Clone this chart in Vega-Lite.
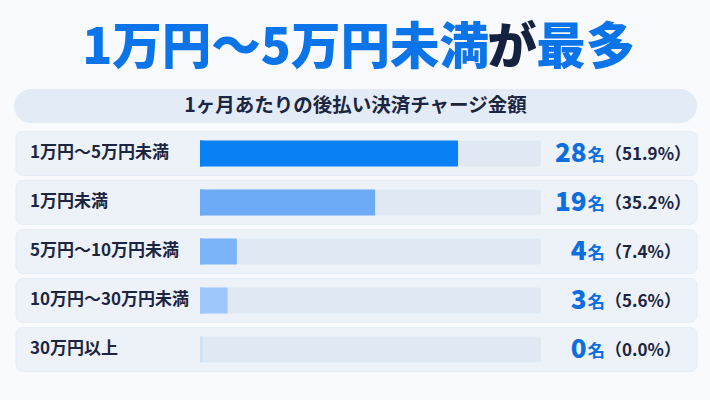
{
  "$schema": "https://vega.github.io/schema/vega-lite/v6.json",
  "width": 710,
  "height": 400,
  "autosize": {"type": "fit", "contains": "padding"},
  "padding": 0,
  "background": "#f8fafd",
  "config": {"view": {"stroke": null}, "font": "Noto Sans CJK JP"},
  "layer": [
    {
      "data": {"values": [{"t": "1ヶ月あたりの後払い決済チャージ金額"}]},
      "mark": {"type": "rect", "cornerRadius": 17, "color": "#e2ebf6"},
      "encoding": {
        "x": {"datum": -20.18, "type": "quantitative", "scale": {"domain": [-21.7, 55.34], "nice": false, "zero": false}, "axis": null},
        "x2": {"datum": 53.93},
        "y": {"datum": -0.318, "type": "quantitative", "scale": {"domain": [-2.03, 5.93], "reverse": true, "nice": false, "zero": false}, "axis": null},
        "y2": {"datum": 0.378}
      }
    },
    {
      "data": {"values": [{"t": "1ヶ月あたりの後払い決済チャージ金額"}]},
      "mark": {"type": "text", "align": "center", "baseline": "middle", "fontSize": 19.5, "fontWeight": "bold", "color": "#1c2541"},
      "encoding": {
        "x": {"datum": 16.87, "type": "quantitative"},
        "y": {"datum": 0.03, "type": "quantitative"},
        "text": {"field": "t"}
      }
    },
    {
      "data": {"values": [{"t": "1万円～5万円未満"}]},
      "mark": {"type": "text", "align": "right", "baseline": "middle", "fontSize": 49.5, "fontWeight": 900, "color": "#0b74e8"},
      "encoding": {
        "x": {"datum": 31.36, "type": "quantitative"},
        "y": {"datum": -1.134, "type": "quantitative"},
        "text": {"field": "t"}
      }
    },
    {
      "data": {"values": [{"t": "が"}]},
      "mark": {"type": "text", "align": "center", "baseline": "middle", "fontSize": 49.5, "fontWeight": 900, "color": "#14213f"},
      "encoding": {
        "x": {"datum": 33.85, "type": "quantitative"},
        "y": {"datum": -1.134, "type": "quantitative"},
        "text": {"field": "t"}
      }
    },
    {
      "data": {"values": [{"t": "最多"}]},
      "mark": {"type": "text", "align": "left", "baseline": "middle", "fontSize": 49.5, "fontWeight": 900, "color": "#0b74e8"},
      "encoding": {
        "x": {"datum": 36.5, "type": "quantitative"},
        "y": {"datum": -1.134, "type": "quantitative"},
        "text": {"field": "t"}
      }
    },
    {
      "data": {
        "values": [
          {"idx": 1, "label": "1万円～5万円未満", "count": 28, "share": 51.9},
          {"idx": 2, "label": "1万円未満", "count": 19, "share": 35.2},
          {"idx": 3, "label": "5万円～10万円未満", "count": 4, "share": 7.4},
          {"idx": 4, "label": "10万円～30万円未満", "count": 3, "share": 5.6},
          {"idx": 5, "label": "30万円以上", "count": 0, "share": 0.0}
        ]
      },
      "transform": [
        {"calculate": "'（' + format(datum.share, '.1f') + '%）'", "as": "shareText"}
      ],
      "layer": [
        {
          "mark": {"type": "bar", "orient": "horizontal", "size": 44, "cornerRadius": 7, "color": "#edf2f9", "stroke": "#e5ecf5", "strokeWidth": 1},
          "encoding": {
            "y": {"field": "idx", "type": "quantitative"},
            "x": {"datum": -19.96, "type": "quantitative"},
            "x2": {"datum": 53.93}
          }
        },
        {
          "mark": {"type": "bar", "orient": "horizontal", "size": 26, "cornerRadius": 2, "color": "#e0e9f3"},
          "encoding": {
            "y": {"field": "idx", "type": "quantitative"},
            "x": {"datum": 0, "type": "quantitative"},
            "x2": {"datum": 37}
          }
        },
        {
          "mark": {"type": "bar", "orient": "horizontal", "size": 26},
          "encoding": {
            "y": {"field": "idx", "type": "quantitative"},
            "x": {"datum": 0, "type": "quantitative"},
            "x2": {"datum": 0.3},
            "color": {"field": "label", "type": "nominal", "legend": null,
              "scale": {
                "domain": ["1万円～5万円未満", "1万円未満", "5万円～10万円未満", "10万円～30万円未満", "30万円以上"],
                "range": ["#0a80f5", "#6eabf7", "#7cb4f9", "#9ec8fb", "#cde0f5"]
              }
            }
          }
        },
        {
          "mark": {"type": "bar", "orient": "horizontal", "size": 26, "cornerRadius": 1},
          "encoding": {
            "y": {"field": "idx", "type": "quantitative"},
            "x": {"field": "count", "type": "quantitative"},
            "x2": {"datum": 0},
            "color": {"field": "label", "type": "nominal", "legend": null}
          }
        },
        {
          "mark": {"type": "text", "align": "left", "baseline": "middle", "fontSize": 17, "fontWeight": "bold", "color": "#1c2541"},
          "encoding": {
            "y": {"field": "idx", "type": "quantitative"},
            "x": {"datum": -18.45, "type": "quantitative"},
            "text": {"field": "label"}
          }
        },
        {
          "mark": {"type": "text", "align": "right", "baseline": "alphabetic", "dy": 9, "fontSize": 26, "fontWeight": 900, "color": "#0d6fdf"},
          "encoding": {
            "y": {"field": "idx", "type": "quantitative"},
            "x": {"datum": 41.95, "type": "quantitative"},
            "text": {"field": "count"}
          }
        },
        {
          "mark": {"type": "text", "align": "left", "baseline": "alphabetic", "dy": 8, "fontSize": 17.5, "fontWeight": "bold", "color": "#0d6fdf"},
          "encoding": {
            "y": {"field": "idx", "type": "quantitative"},
            "x": {"datum": 42.05, "type": "quantitative"},
            "text": {"value": "名"}
          }
        },
        {
          "mark": {"type": "text", "align": "left", "baseline": "alphabetic", "dy": 7, "fontSize": 17, "fontWeight": "bold", "color": "#1c2541"},
          "encoding": {
            "y": {"field": "idx", "type": "quantitative"},
            "x": {"datum": 43.95, "type": "quantitative"},
            "text": {"field": "shareText"}
          }
        }
      ]
    }
  ]
}
